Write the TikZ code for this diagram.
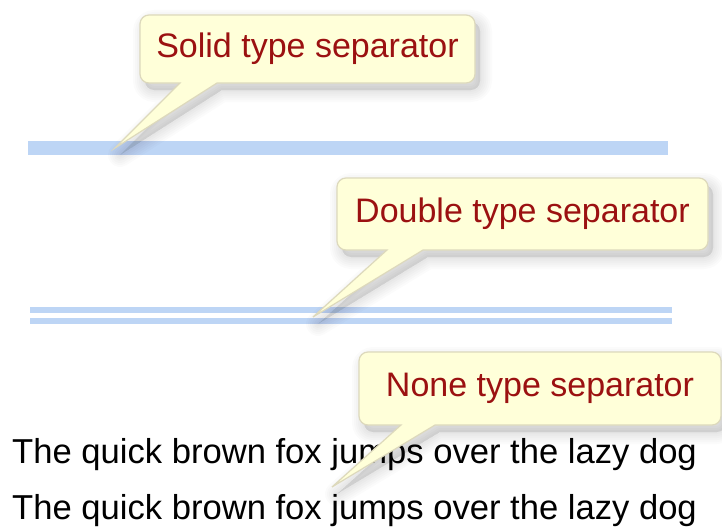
\documentclass[tikz,border=0pt]{standalone}
\usepackage{fontspec}
\setmainfont{Liberation Sans}
\definecolor{sepblue}{HTML}{BDD5F5}
\definecolor{callfill}{HTML}{FFFFD9}
\definecolor{calldraw}{HTML}{DDD9BC}
\definecolor{calltext}{HTML}{9B1111}
\tikzset{
  calltxt/.style={font=\fontsize{34}{40}\selectfont, text=calltext, inner sep=0pt},
  callshape/.style={fill=callfill, draw=calldraw, line width=1.2pt},
  shadowlayer/.style={shift={(5,7)}, draw=black, fill=black, line join=round},
  bodytxt/.style={font=\fontsize{34.6}{40}\selectfont, anchor=base west, inner sep=0pt},
  sepbar/.style={fill=sepblue}
}
% #1 left, #2 top, #3 right, #4 bottom, #5 tail base left x, #6 tail base right x, #7 tip x, #8 tip y
\newcommand\mycalloutpath[8]{(#5,#4) -- (#7,#8) -- (#6,#4) [rounded corners=9pt] -- (#3,#4) -- (#3,#2) -- (#1,#2) -- (#1,#4) [sharp corners] -- cycle}
\newcommand\mycallout[8]{%
  \foreach \w in {24,20,16,12,8,4}{%
    \path[shadowlayer, line width=\w pt, draw opacity=0.016, fill opacity=0.016] \mycalloutpath{#1}{#2}{#3}{#4}{#5}{#6}{#7}{#8};}%
  \path[callshape] \mycalloutpath{#1}{#2}{#3}{#4}{#5}{#6}{#7}{#8};}
\begin{document}
\begin{tikzpicture}[x=1pt,y=-1pt]
\fill[white] (0,0) rectangle (722,527);
\useasboundingbox (0,0) rectangle (722,527);
% separators
\fill[sepbar] (28,141) rectangle (668,155);
\fill[sepbar] (30,307) rectangle (672,313);
\fill[sepbar] (30,318) rectangle (672,324);
% text lines
\node[bodytxt] (l1) at (12,463) {The quick brown fox jumps over the lazy dog};
\node[bodytxt] (l2) at (12,519) {The quick brown fox jumps over the lazy dog};
% tips
\coordinate (t1) at (115,148);
\coordinate (t2) at (313,317);
\coordinate (t3) at (332,487);
% callout shapes
\mycallout{140}{15}{475}{83}{180}{217}{115}{148}
\mycallout{337}{178}{708}{250}{387}{423}{313}{317}
\mycallout{359}{352}{721}{425}{401}{435}{332}{487}
% callout texts
\node[calltxt] (c1) at (307.5,49) {Solid type separator};
\node[calltxt] (c2) at (522.5,214) {Double type separator};
\node[calltxt] (c3) at (540,388.5) {None type separator};
\end{tikzpicture}
\end{document}
